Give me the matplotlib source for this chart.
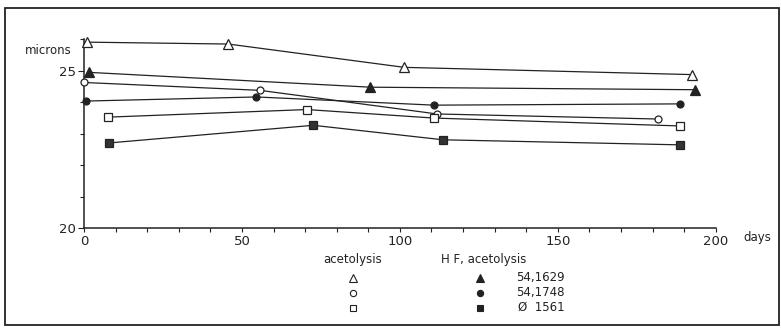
import matplotlib.pyplot as plt
from matplotlib.patches import Rectangle

# values (days, microns)
tri_open_x = [0.8, 45.7, 101.4, 192.5]
tri_open_y = [25.9, 25.84, 25.1, 24.87]
tri_fill_x = [1.7, 90.7, 193.6]
tri_fill_y = [24.94, 24.47, 24.39]
circ_open_x = [0, 55.7, 111.8, 181.6]
circ_open_y = [24.62, 24.37, 23.62, 23.46]
circ_fill_x = [0.6, 54.6, 110.8, 188.6]
circ_fill_y = [24.03, 24.16, 23.9, 23.94]
sq_open_x = [7.7, 70.6, 110.8, 188.6]
sq_open_y = [23.52, 23.76, 23.49, 23.24]
sq_fill_x = [7.9, 72.6, 113.7, 188.6]
sq_fill_y = [22.7, 23.26, 22.8, 22.64]

legend_labels = ['54,1629', '54,1748', '\u00d8  1561']

plt.rcParams['font.family'] = ['DejaVu Sans']
W, H = 781, 329
fig = plt.figure(figsize=(W / 100, H / 100), dpi=100)
ax = fig.add_axes([84 / W, 1 - 228 / H, (715.7 - 84) / W, (228 - 39) / H])

ink = '#222222'
series = [
    (tri_open_x, tri_open_y, '^', 'white', 7),
    (tri_fill_x, tri_fill_y, '^', ink, 7),
    (circ_open_x, circ_open_y, 'o', 'white', 5),
    (circ_fill_x, circ_fill_y, 'o', ink, 5),
    (sq_open_x, sq_open_y, 's', 'white', 5.5),
    (sq_fill_x, sq_fill_y, 's', '#333333', 5.5),
]
for xs, ys, m, fc, ms in series:
    ax.plot(xs, ys, color=ink, lw=0.9, marker=m, markersize=ms,
            markerfacecolor=fc, markeredgecolor=ink, markeredgewidth=0.9,
            clip_on=False, zorder=3)

ax.set_xlim(0, 200)
ax.set_ylim(20, 26)
for s in ['top', 'right']:
    ax.spines[s].set_visible(False)
for s in ['left', 'bottom']:
    ax.spines[s].set_color(ink)
    ax.spines[s].set_linewidth(1.1)

ax.set_xticks([0, 50, 100, 150, 200])
ax.set_xticks(range(0, 201, 10), minor=True)
ax.set_yticks([20, 25])
ax.set_yticks(range(20, 27), minor=True)
ax.tick_params(which='both', direction='out', length=3, width=0.8, colors=ink,
               labelsize=9.5, pad=2)
ax.tick_params(axis='y', which='major', length=4)

fig.text(72 / W, 1 - 50 / H, 'microns', ha='right', va='center', fontsize=8.5, color=ink)
fig.text(743 / W, 1 - 238 / H, 'days', ha='left', va='center', fontsize=8.5, color=ink)

# legend block
fig.text(353 / W, 1 - 260 / H, 'acetolysis', ha='center', va='center', fontsize=8.5, color=ink)
fig.text(441 / W, 1 - 260 / H, 'H F, acetolysis', ha='left', va='center', fontsize=8.5, color=ink)
rows_y = [278, 292.5, 307.5]
open_m = [('^', 6), ('o', 4.5), ('s', 5)]
for (m, ms), yy, lab in zip(open_m, rows_y, legend_labels):
    fig.add_artist(plt.Line2D([353 / W], [1 - yy / H], marker=m, markersize=ms,
                              markerfacecolor='white', markeredgecolor=ink,
                              markeredgewidth=0.8, transform=fig.transFigure))
    fig.add_artist(plt.Line2D([480 / W], [1 - yy / H], marker=m, markersize=ms,
                              markerfacecolor=ink, markeredgecolor=ink,
                              markeredgewidth=0.8, transform=fig.transFigure))
    fig.text(565 / W, 1 - yy / H, lab, ha='right', va='center', fontsize=8.5, color=ink)

# frame round the whole figure
fig.add_artist(Rectangle((5 / W, 1 - 325 / H), (779 - 5) / W, (325 - 8) / H,
                         transform=fig.transFigure, fill=False, edgecolor=ink, lw=1.3))

fig.savefig('out.png', dpi=100)
